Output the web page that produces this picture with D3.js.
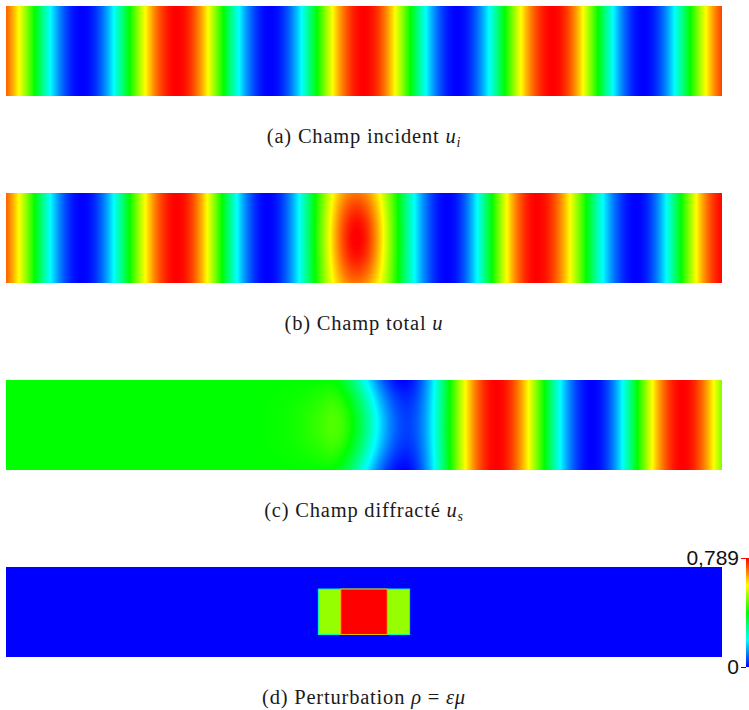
<!DOCTYPE html>
<html>
<head>
<meta charset="utf-8">
<script src="https://cdn.jsdelivr.net/npm/d3@7"></script>
<style>
  html, body { margin: 0; padding: 0; background: #fff; }
  svg { display: block; }
</style>
</head>
<body>
<svg id="fig" width="749" height="710"></svg>
<script>
// ---------------------------------------------------------------
// Waveguide coordinates: x along the guide, y across it
// ---------------------------------------------------------------
const guideX = [0, 8];
const guideY = [0, 1];

// Incident field u_i : positions of successive crests / troughs and their values
const incidentPeakX = [-0.21, 0.85, 1.91, 2.95, 4.00, 5.04, 6.11, 7.12, 8.17];
const incidentPeakV = [1, -1, 1, -1, 1, -1, 1, -1, 1];
const incidentRange = [-1, 1];

// Total field u
const totalPeakX = [-0.21, 0.85, 1.91, 2.92, 3.91, 4.93, 5.93, 7.04, 8.05];
const totalPeakV = [1, -1, 1, -1, 0.77, -1, 1, -1, 1];
// local hump over the scatterer: centre x, height at mid-guide, spread along x
const totalHump = [3.93, 0.24, 0.21];
const totalRange = [-1, 1];

// Scattered field u_s (zero upstream of the scatterer)
const scatteredPeakX = [0, 3.60, 4.44, 5.48, 6.55, 7.56, 8.60];
const scatteredPeakV = [0, 0, -0.57, 0.57, -0.57, 0.57, -0.57];
const scatteredHump = [4.00, 0.14, 0.40];
const scatteredRange = [-0.57, 0.57];

// Perturbation rho = eps * mu : two constant blocks
const rhoX0 = [3.49, 3.74];
const rhoX1 = [4.51, 4.26];
const rhoY0 = [0.245, 0.245];
const rhoY1 = [0.75, 0.75];
const rhoValue = [0.51, 0.789];
const rhoRange = [0, 0.789];
const rhoTicks = [0, 0.789];

const captions = [
  [["(a) Champ incident ", "rm"], ["u", "it"], ["i", "sub"]],
  [["(b) Champ total ", "rm"], ["u", "it"]],
  [["(c) Champ diffracté ", "rm"], ["u", "it"], ["s", "sub"]],
  [["(d) Perturbation ", "rm"], ["ρ", "it"], [" = ", "rm"], ["εμ", "it"]]
];

// ---------------------------------------------------------------
// Layout
// ---------------------------------------------------------------
const panelLeft = 6, panelRight = 722;
const panelTop0 = 6, panelStep = 187, panelH = 90;
const captionGap = 47;

const svg = d3.select("#fig");

const xScale = d3.scaleLinear().domain(guideX).range([panelLeft, panelRight]);
const yScaleFor = i => d3.scaleLinear().domain(guideY)
  .range([panelTop0 + i * panelStep, panelTop0 + i * panelStep + panelH]);

// blue -> cyan -> green -> yellow -> red rainbow
const rainbow = d3.interpolateHslLong("#0000ff", "#ff0000");
const colourFor = range => d3.scaleSequential(rainbow).domain(range).clamp(true);

// smooth profile through the crest/trough list
function profile(px, pv, x) {
  let i = d3.bisectRight(px, x) - 1;
  i = Math.max(0, Math.min(px.length - 2, i));
  let s = (x - px[i]) / (px[i + 1] - px[i]);
  s = Math.max(0, Math.min(1, s));
  const e = (1 - Math.cos(Math.PI * s)) / 2;
  return pv[i] + (pv[i + 1] - pv[i]) * e;
}
// transverse hump, vanishing on both walls of the guide
function hump(h, x, y) {
  if (!h) return 0;
  const [cx, a, sx] = h;
  return a * Math.exp(-0.5 * ((x - cx) / sx) ** 2) * Math.sin(Math.PI * y);
}

// cells of the field: one full-height strip per pixel column,
// split across the guide where the hump matters
function fieldCells(px, pv, h) {
  const cells = [];
  const nCols = Math.round(panelRight - panelLeft);
  const nRows = 45;
  for (let c = 0; c < nCols; c++) {
    const x0 = xScale.invert(panelLeft + c), x1 = xScale.invert(panelLeft + c + 1);
    const xm = (x0 + x1) / 2;
    const base = profile(px, pv, xm);
    if (h && hump(h, xm, 0.5) > 0.002) {
      for (let r = 0; r < nRows; r++) {
        const y0 = r / nRows, y1 = (r + 1) / nRows;
        cells.push({x0, x1, y0, y1, v: base + hump(h, xm, (y0 + y1) / 2)});
      }
    } else {
      cells.push({x0, x1, y0: 0, y1: 1, v: base});
    }
  }
  return cells;
}

const fields = [
  {px: incidentPeakX, pv: incidentPeakV, h: null, range: incidentRange},
  {px: totalPeakX, pv: totalPeakV, h: totalHump, range: totalRange},
  {px: scatteredPeakX, pv: scatteredPeakV, h: scatteredHump, range: scatteredRange}
];

fields.forEach((f, i) => {
  const ys = yScaleFor(i);
  const col = colourFor(f.range);
  svg.append("g")
    .attr("shape-rendering", "crispEdges")
    .selectAll("rect")
    .data(fieldCells(f.px, f.pv, f.h))
    .join("rect")
    .attr("x", d => xScale(d.x0))
    .attr("width", d => xScale(d.x1) - xScale(d.x0))
    .attr("y", d => ys(d.y0))
    .attr("height", d => ys(d.y1) - ys(d.y0))
    .attr("fill", d => col(d.v));
});

// ---------------------------------------------------------------
// Perturbation panel
// ---------------------------------------------------------------
{
  const ys = yScaleFor(3);
  const col = colourFor(rhoRange);
  const g = svg.append("g");
  g.append("rect")
    .attr("x", xScale(guideX[0])).attr("width", xScale(guideX[1]) - xScale(guideX[0]))
    .attr("y", ys(guideY[0])).attr("height", ys(guideY[1]) - ys(guideY[0]))
    .attr("fill", col(rhoRange[0]));
  const blocks = rhoValue.map((v, k) => ({x0: rhoX0[k], x1: rhoX1[k], y0: rhoY0[k], y1: rhoY1[k], v,
    edge: k === 0 ? (rhoRange[0] + v) / 2 : (rhoValue[k - 1] + v) / 2}));
  g.selectAll("rect.block").data(blocks).join("rect")
    .attr("class", "block")
    .attr("x", d => xScale(d.x0)).attr("width", d => xScale(d.x1) - xScale(d.x0))
    .attr("y", d => ys(d.y0)).attr("height", d => ys(d.y1) - ys(d.y0))
    .attr("fill", d => col(d.v))
    .attr("stroke", d => col(d.edge))
    .attr("stroke-width", 1);

  // colour bar
  const barScale = d3.scaleLinear().domain(rhoRange).range([667, 558]);
  const grad = svg.append("defs").append("linearGradient")
    .attr("id", "rhoBar").attr("x1", 0).attr("y1", 1).attr("x2", 0).attr("y2", 0);
  grad.selectAll("stop").data(d3.range(0, 1.0001, 0.05)).join("stop")
    .attr("offset", d => d)
    .attr("stop-color", d => col(rhoRange[0] + d * (rhoRange[1] - rhoRange[0])));
  svg.append("rect")
    .attr("x", 746).attr("width", 3)
    .attr("y", barScale(rhoRange[1])).attr("height", barScale(rhoRange[0]) - barScale(rhoRange[1]))
    .attr("fill", "url(#rhoBar)");

  const fr = d3.formatLocale({decimal: ",", thousands: " ", grouping: [3], currency: ["", ""]});
  const fmt = v => v === 0 ? "0" : fr.format(".3f")(v);
  const axis = svg.append("g")
    .attr("transform", "translate(746,0)")
    .call(d3.axisLeft(barScale).tickValues(rhoTicks).tickFormat(fmt).tickSize(5).tickPadding(2));
  axis.select(".domain").remove();
  axis.selectAll(".tick line").attr("stroke", d => col(d));
  axis.selectAll(".tick text")
    .attr("font-family", "'Liberation Sans', Arial, sans-serif")
    .attr("font-size", 21)
    .attr("fill", "#111");
}

// ---------------------------------------------------------------
// Captions
// ---------------------------------------------------------------
captions.forEach((parts, i) => {
  const t = svg.append("text")
    .attr("x", (panelLeft + panelRight) / 2)
    .attr("y", panelTop0 + i * panelStep + panelH + captionGap)
    .attr("text-anchor", "middle")
    .attr("font-family", "'Liberation Serif', 'Times New Roman', serif")
    .attr("font-size", 20.5)
    .attr("letter-spacing", 0.8)
    .attr("fill", "#1a1a1a");
  parts.forEach(([s, kind]) => {
    const sp = t.append("tspan").text(s);
    if (kind === "it") sp.attr("font-style", "italic");
    if (kind === "sub") sp.attr("font-style", "italic").attr("font-size", 14).attr("dy", 4);
  });
});
</script>
</body>
</html>
